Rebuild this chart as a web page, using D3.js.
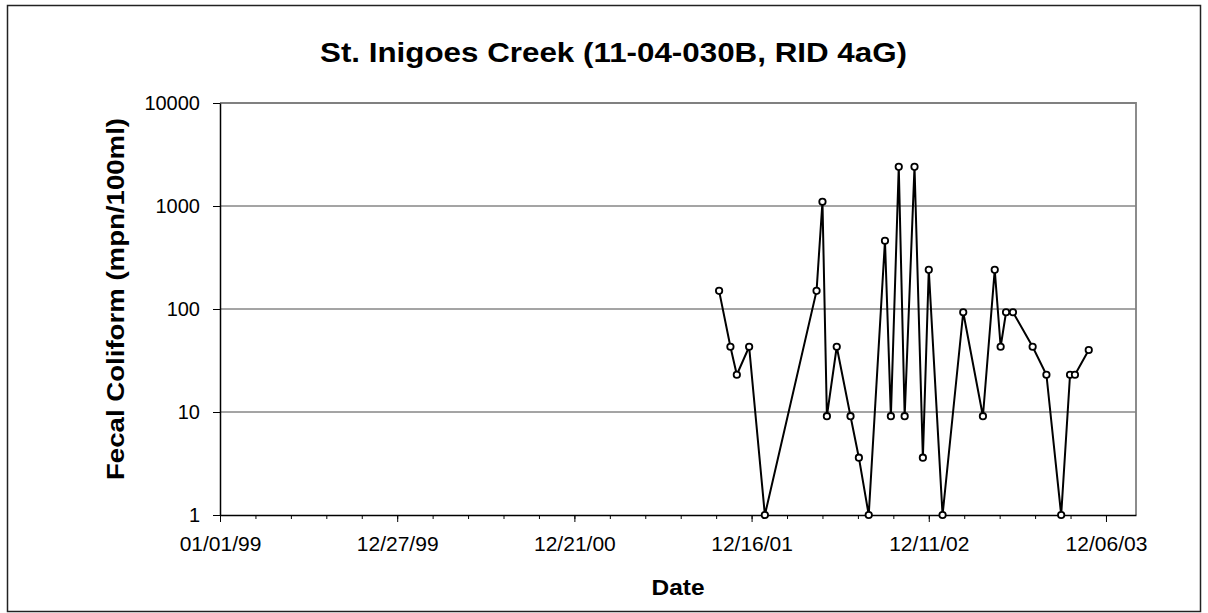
<!DOCTYPE html>
<html lang="en">
<head>
    <meta charset="UTF-8">
    <title>St. Inigoes Creek fecal coliform</title>
    <script src="https://cdn.jsdelivr.net/npm/d3@7/dist/d3.min.js"></script>
    <style>
        html, body { margin: 0; padding: 0; background: #fff; }
        text { font-family: Arial, "Liberation Sans", sans-serif; fill: #000; }
    </style>
</head>
<body>
    <div id="container"></div>

    <script>
        const width = 1208;
        const height = 613;
        const plot = { left: 220, right: 1136, top: 103, bottom: 515 };

        // sample dates and fecal coliform values (MPN/100ml)
        const sampleDates = [
            '2001-10-11', '2001-11-03', '2001-11-16', '2001-12-11', '2002-01-12',
            '2002-04-27', '2002-05-09', '2002-05-18', '2002-06-07', '2002-07-05',
            '2002-07-22', '2002-08-11', '2002-09-13', '2002-09-25', '2002-10-11',
            '2002-10-23', '2002-11-12', '2002-11-29', '2002-12-11', '2003-01-08',
            '2003-02-19', '2003-03-31', '2003-04-24', '2003-05-06', '2003-05-17',
            '2003-05-31', '2003-07-10', '2003-08-07', '2003-09-06', '2003-09-24',
            '2003-10-04', '2003-11-01'
        ];
        const coliform = [
            150, 43, 23, 43, 1,
            150, 1100, 9.1, 43, 9.1,
            3.6, 1, 460, 9.1, 2400,
            9.1, 2400, 3.6, 240, 1,
            93, 9.1, 240, 43, 93,
            93, 43, 23, 1, 23,
            23, 40
        ];

        const xTickLabels = ['01/01/99', '12/27/99', '12/21/00', '12/16/01', '12/11/02', '12/06/03'];
        const yTicks = [1, 10, 100, 1000, 10000];
        const xMax = '2004-02-05';

        const parseDay = d3.utcParse('%Y-%m-%d');
        const parseTick = d3.utcParse('%m/%d/%y');
        const fmtTick = d3.utcFormat('%m/%d/%y');

        const data = sampleDates.map((d, i) => ({ date: parseDay(d), value: coliform[i] }));
        const majorTicks = xTickLabels.map(parseTick);
        // Excel minor unit: one fifth of the 360 day major unit
        const minorTicks = d3.range(0, 26).map(i => d3.utcDay.offset(majorTicks[0], i * 72));

        const x = d3.scaleUtc().domain([majorTicks[0], parseDay(xMax)]).range([plot.left, plot.right]);
        const y = d3.scaleLog().domain([1, 10000]).range([plot.bottom, plot.top]);

        const svg = d3.select('#container').append('svg')
            .attr('width', width)
            .attr('height', height);

        // chart border
        svg.append('rect')
            .attr('x', 7.5).attr('y', 5.5)
            .attr('width', 1193).attr('height', 606)
            .attr('fill', 'none')
            .attr('stroke', '#222')
            .attr('stroke-width', 1.5);

        // gridlines
        svg.append('g').selectAll('line').data(yTicks.slice(1, -1)).join('line')
            .attr('x1', plot.left).attr('x2', plot.right)
            .attr('y1', d => y(d)).attr('y2', d => y(d))
            .attr('stroke', '#4a4a4a')
            .attr('stroke-width', 1);

        // plot area top and right border
        svg.append('path')
            .attr('d', `M${plot.left},${plot.top}H${plot.right}V${plot.bottom}`)
            .attr('fill', 'none')
            .attr('stroke', '#808080')
            .attr('stroke-width', 1.8);

        // x axis: minor then major ticks
        svg.append('g')
            .attr('transform', `translate(0, ${plot.bottom})`)
            .call(d3.axisBottom(x).tickValues(minorTicks).tickSize(4).tickFormat(''))
            .call(g => g.select('.domain').remove())
            .call(g => g.selectAll('line').attr('stroke', '#000'));

        const gx = svg.append('g')
            .attr('transform', `translate(0, ${plot.bottom})`)
            .call(d3.axisBottom(x).tickValues(majorTicks).tickSize(7).tickSizeOuter(0).tickPadding(14).tickFormat(fmtTick));
        gx.select('.domain').attr('stroke', '#000').attr('stroke-width', 1.5);
        gx.selectAll('text').attr('font-size', 21).attr('fill', '#000');

        // y axis
        const gy = svg.append('g')
            .attr('transform', `translate(${plot.left}, 0)`)
            .call(d3.axisLeft(y).tickValues(yTicks).tickSize(7).tickSizeOuter(0).tickPadding(13).tickFormat(d3.format('d')));
        gy.select('.domain').attr('stroke', '#000').attr('stroke-width', 1.5);
        gy.selectAll('text').attr('font-size', 20).attr('fill', '#000');

        // series line
        const line = d3.line()
            .x(d => x(d.date))
            .y(d => y(d.value));

        svg.append('path')
            .datum(data)
            .attr('fill', 'none')
            .attr('stroke', '#000')
            .attr('stroke-width', 2)
            .attr('stroke-linejoin', 'miter')
            .attr('d', line);

        // markers
        svg.append('g').selectAll('circle').data(data).join('circle')
            .attr('cx', d => x(d.date))
            .attr('cy', d => y(d.value))
            .attr('r', 3.2)
            .attr('fill', '#fff')
            .attr('stroke', '#000')
            .attr('stroke-width', 1.8);

        // titles
        svg.append('text')
            .attr('x', 613.5).attr('y', 61.7)
            .attr('text-anchor', 'middle')
            .attr('font-size', 28)
            .attr('font-weight', 'bold')
            .attr('textLength', 587)
            .attr('lengthAdjust', 'spacingAndGlyphs')
            .text('St. Inigoes Creek (11-04-030B, RID 4aG)');

        svg.append('text')
            .attr('x', (plot.left + plot.right) / 2).attr('y', 595)
            .attr('text-anchor', 'middle')
            .attr('font-size', 22)
            .attr('font-weight', 'bold')
            .attr('textLength', 53)
            .attr('lengthAdjust', 'spacingAndGlyphs')
            .text('Date');

        svg.append('text')
            .attr('transform', 'translate(124, 299) rotate(-90)')
            .attr('text-anchor', 'middle')
            .attr('font-size', 23)
            .attr('font-weight', 'bold')
            .attr('textLength', 362)
            .attr('lengthAdjust', 'spacingAndGlyphs')
            .text('Fecal Coliform (mpn/100ml)');
    </script>
</body>
</html>
